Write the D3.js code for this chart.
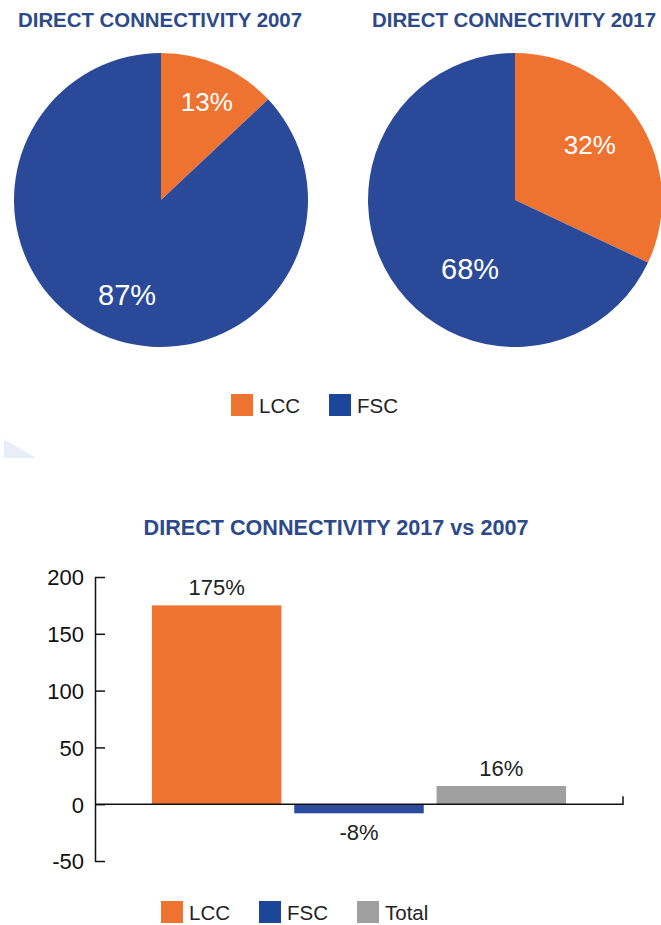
<!DOCTYPE html>
<html>
<head>
<meta charset="utf-8">
<script src="https://cdn.jsdelivr.net/npm/d3@7"></script>
<style>
  html, body { margin: 0; padding: 0; background: #fff; }
  svg { display: block; }
  text { font-family: "Liberation Sans", Arial, sans-serif; }
</style>
</head>
<body>
<svg id="chart" width="661" height="925"></svg>
<script>
// ======================================================================
// DATA
// ======================================================================

var segments = ["LCC", "FSC"];
var share2007 = [13, 87];
var share2017 = [32, 68];
var pieTitles = ["DIRECT CONNECTIVITY 2007", "DIRECT CONNECTIVITY 2017"];

var barCategories = ["LCC", "FSC", "Total"];
var barChange = [175, -8, 16];
var barTicks = [-50, 0, 50, 100, 150, 200];
var barTitle = "DIRECT CONNECTIVITY 2017 vs 2007";

// ======================================================================
// STYLE
// ======================================================================

var orange = "#ee7331", pieBlue = "#2a4a99", barBlue = "#2a4b9f",
    legendBlue = "#1b4699", grey = "#9f9f9f", titleBlue = "#2c4a8a";
var pieColor = d3.scaleOrdinal().domain(segments).range([orange, pieBlue]);
var barColor = d3.scaleOrdinal().domain(barCategories).range([orange, barBlue, grey]);

var svg = d3.select("#chart");

// faint decoration left from the page layout
svg.append("polygon")
    .attr("points", "4,439 36,458 4,458")
    .attr("fill", "#e7eef7");

// ======================================================================
// PIES
// ======================================================================

var radius = 147;
var pieCenters = [[161, 200], [515, 200]];
// small hand nudges so labels sit where the original put them
var labelNudge = [[[5, -4], [7, 0]], [[-12, 0], [42, 13]]];

var pie = d3.pie().sort(null).value(function(d) { return d; });
var arc = d3.arc().innerRadius(0).outerRadius(radius);
var labelArc = d3.arc().innerRadius(radius * 0.7).outerRadius(radius * 0.7);

[share2007, share2017].forEach(function(values, i) {
    var g = svg.append("g")
        .attr("transform", "translate(" + pieCenters[i][0] + "," + pieCenters[i][1] + ")");

    svg.append("text")
        .attr("x", pieCenters[i][0] - 1)
        .attr("y", 27)
        .attr("text-anchor", "middle")
        .attr("font-size", 20.4)
        .attr("font-weight", "bold")
        .attr("fill", titleBlue)
        .text(pieTitles[i]);

    var slices = pie(values);

    g.selectAll("path")
        .data(slices)
        .enter().append("path")
        .attr("d", arc)
        .attr("fill", function(d, j) { return pieColor(segments[j]); });

    g.selectAll("text")
        .data(slices)
        .enter().append("text")
        .attr("transform", function(d, j) {
            var c = labelArc.centroid(d);
            return "translate(" + (c[0] + labelNudge[i][j][0]) + "," + (c[1] + labelNudge[i][j][1]) + ")";
        })
        .attr("text-anchor", "middle")
        .attr("dy", "0.36em")
        .attr("font-size", function(d, j) { return j === 0 ? 26 : 29; })
        .attr("fill", "#fff")
        .text(function(d) { return d.data + "%"; });
});

// legend under the pies
function drawLegend(names, colors, x0, y0) {
    var x = x0;
    names.forEach(function(name, i) {
        svg.append("rect")
            .attr("x", x).attr("y", y0)
            .attr("width", 22).attr("height", 22)
            .attr("fill", colors[i]);
        var t = svg.append("text")
            .attr("x", x + 28)
            .attr("y", y0 + 19)
            .attr("font-size", 20.5)
            .attr("fill", "#222")
            .text(name);
        x = x + 28 + t.node().getComputedTextLength() + 29;
    });
}

drawLegend(segments, [orange, legendBlue], 231, 394);

// ======================================================================
// BAR CHART
// ======================================================================

var plotLeft = 95, plotRight = 623;

var y = d3.scaleLinear().domain([-50, 200]).range([861, 577]);
var x = d3.scaleBand()
    .domain(barCategories)
    .range([plotLeft, plotRight])
    .paddingInner(0.09)
    .paddingOuter(0.4);

svg.append("text")
    .attr("x", 336)
    .attr("y", 535)
    .attr("text-anchor", "middle")
    .attr("font-size", 21.6)
    .attr("font-weight", "bold")
    .attr("fill", titleBlue)
    .text(barTitle);

svg.selectAll(".bar")
    .data(barChange)
    .enter().append("rect")
    .attr("class", "bar")
    .attr("x", function(d, i) { return x(barCategories[i]); })
    .attr("width", x.bandwidth())
    .attr("y", function(d) { return y(Math.max(0, d)); })
    .attr("height", function(d) { return Math.abs(y(d) - y(0)); })
    .attr("fill", function(d, i) { return barColor(barCategories[i]); });

// y axis, ticks pointing inward, plain hyphen for negatives
var yAxis = svg.append("g")
    .attr("transform", "translate(" + plotLeft + ",0)")
    .call(d3.axisRight(y)
        .tickValues(barTicks)
        .tickFormat(function(d) { return String(d); })
        .tickSize(10)
        .tickSizeOuter(0));
yAxis.select(".domain").attr("stroke", "#111").attr("stroke-width", 1.5);
yAxis.selectAll(".tick line").attr("stroke", "#111").attr("stroke-width", 1.5);
yAxis.selectAll(".tick text")
    .attr("x", -11)
    .attr("text-anchor", "end")
    .attr("dy", "0.36em")
    .attr("font-family", "'Liberation Sans', Arial, sans-serif")
    .attr("font-size", 22)
    .attr("fill", "#111");

// zero line with the little end tick
svg.append("path")
    .attr("d", d3.line()([[plotLeft, y(0)], [plotRight, y(0)], [plotRight, y(0) - 8]]))
    .attr("fill", "none")
    .attr("stroke", "#111")
    .attr("stroke-width", 1.5);

svg.selectAll(".value")
    .data(barChange)
    .enter().append("text")
    .attr("class", "value")
    .attr("x", function(d, i) { return x(barCategories[i]) + x.bandwidth() / 2; })
    .attr("y", function(d) { return d >= 0 ? y(d) - 10 : y(d) + 27; })
    .attr("text-anchor", "middle")
    .attr("font-size", 22)
    .attr("fill", "#222")
    .text(function(d) { return d + "%"; });

drawLegend(barCategories, [orange, legendBlue, grey], 161, 901);
</script>
</body>
</html>
